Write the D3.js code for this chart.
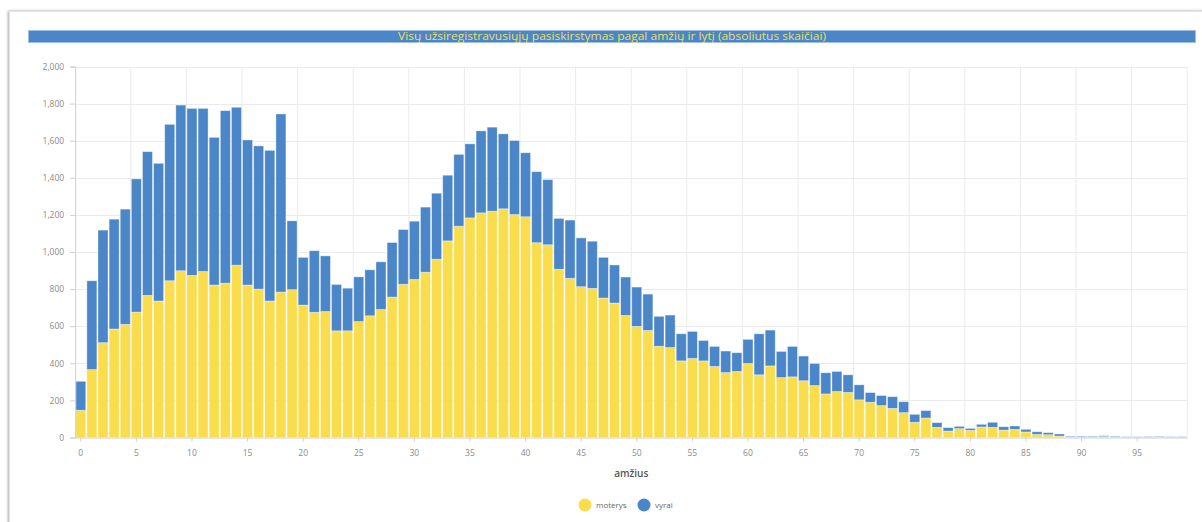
<!DOCTYPE html>
<html>
<head>
<meta charset="utf-8">
<script src="https://cdn.jsdelivr.net/npm/d3@7"></script>
<style>
  html, body { margin: 0; padding: 0; background: #ffffff; }
  svg { display: block; font-family: "Open Sans", "DejaVu Sans", sans-serif; }
</style>
</head>
<body>
<svg id="chart" width="1202" height="522"></svg>
<script>
const title = "Visų užsiregistravusiųjų pasiskirstymas pagal amžių ir lytį (absoliutus skaičiai)";
const xAxisTitle = "amžius";
const seriesNames = ["moterys", "vyrai"];
const seriesColors = ["#f9dd4d", "#4a86c8"];

const ages = d3.range(0, 100);
const women = [147,366,511,585,610,676,766,736,845,899,
  874,895,822,832,929,822,800,736,784,797,
  714,675,679,575,575,625,656,690,757,826,
  852,891,961,1060,1139,1184,1211,1220,1233,1202,
  1190,1050,1039,907,858,813,804,752,725,658,
  599,577,492,485,413,426,413,383,350,356,
  399,338,386,323,327,306,280,235,248,243,
  203,190,172,157,134,82,105,55,35,48,
  39,57,55,40,44,30,17,15,8,3,
  3,3,5,3,2,2,2,4,2,2];
const men = [156,479,607,592,621,718,775,742,843,893,
  900,879,796,930,851,782,772,812,960,371,
  257,332,300,250,230,241,248,257,294,295,
  314,351,356,354,387,399,442,453,404,399,
  345,383,351,274,314,263,254,219,205,207,
  212,196,161,175,146,146,110,108,116,101,
  130,221,193,141,164,133,119,114,108,95,
  81,52,54,63,59,43,40,25,18,12,
  10,14,27,18,18,14,14,11,11,4,
  4,4,5,4,2,2,3,3,2,2];
const yTicks = [0,200,400,600,800,1000,1200,1400,1600,1800,2000];
const xTickAges = d3.range(0, 100, 5);

const svg = d3.select("#chart");

// card frame with soft shadow
const defs = svg.append("defs");
const f = defs.append("filter").attr("id","sh").attr("x","-5%").attr("y","-5%").attr("width","110%").attr("height","110%");
f.append("feDropShadow").attr("dx",-1).attr("dy",0).attr("stdDeviation",1.6).attr("flood-color","#000").attr("flood-opacity",0.35);
svg.append("rect").attr("x",9.5).attr("y",11.5).attr("width",1230).attr("height",540)
  .attr("fill","#fff").attr("stroke","#e2e2e2").attr("filter","url(#sh)");

// title bar
svg.append("rect").attr("x",28.5).attr("y",30.5).attr("width",1167).attr("height",12)
  .attr("fill","#4a86c8").attr("stroke","#9fc0e4").attr("stroke-width",1);
svg.append("text").attr("x",612).attr("y",40.2).attr("text-anchor","middle")
  .attr("fill","#eedf5c").attr("font-size",10.5).attr("font-weight","normal")
  .attr("textLength",428).attr("lengthAdjust","spacingAndGlyphs")
  .text(title);

const pLeft = 75.2, pRight = 1187.2, pTop = 66.5, pBottom = 437.5;
const x = d3.scaleBand().domain(ages).range([pLeft, pRight]).paddingInner(0.1).paddingOuter(0.05);
const y = d3.scaleLinear().domain([0, 2000]).range([pBottom, pTop]);

// gridlines
const g = svg.append("g");
g.selectAll("line.h").data(yTicks.filter(d => d > 0)).join("line")
  .attr("x1", pLeft).attr("x2", pRight)
  .attr("y1", d => Math.round(y(d)) + 0.5).attr("y2", d => Math.round(y(d)) + 0.5)
  .attr("stroke", "#ebebeb");
g.selectAll("line.v").data(xTickAges.filter(d => d > 0)).join("line")
  .attr("x1", d => x(d) + x.bandwidth()/2 - x.step()/2).attr("x2", d => x(d) + x.bandwidth()/2 - x.step()/2)
  .attr("y1", pTop).attr("y2", pBottom)
  .attr("stroke", "#ebebeb");
g.append("line").attr("x1", pRight).attr("x2", pRight).attr("y1", pTop).attr("y2", pBottom).attr("stroke", "#ebebeb");

// stacked bars
const rows = ages.map((a, i) => ({age: a, moterys: women[i], vyrai: men[i]}));
const stack = d3.stack().keys(seriesNames)(rows);
svg.append("g").selectAll("g").data(stack).join("g")
  .attr("fill", (d, i) => seriesColors[i])
  .selectAll("rect").data(d => d).join("rect")
  .attr("x", d => x(d.data.age))
  .attr("width", x.bandwidth())
  .attr("y", d => y(d[1]))
  .attr("height", d => Math.max(0, y(d[0]) - y(d[1])))
  .attr("stroke", "rgba(255,255,255,0.45)")
  .attr("stroke-width", 0.8);

// y axis
const yAxis = svg.append("g").attr("transform", `translate(${pLeft},0)`)
  .call(d3.axisLeft(y).tickValues(yTicks).tickFormat(d3.format(",")).tickSize(5).tickPadding(6));
yAxis.select(".domain").attr("stroke", "#cfcfcf");
yAxis.selectAll(".tick line").attr("stroke", "#cfcfcf");
yAxis.selectAll("text").attr("fill", "#8a8a8a").attr("font-size", 8.5).attr("font-family", "'Open Sans', sans-serif");

// x axis
const xAxis = svg.append("g").attr("transform", `translate(0,${pBottom})`)
  .call(d3.axisBottom(x).tickValues(xTickAges).tickSize(4).tickPadding(8).tickSizeOuter(0));
xAxis.select(".domain").attr("stroke", "#cfcfcf");
xAxis.selectAll(".tick line").attr("stroke", "#cfcfcf");
xAxis.selectAll("text").attr("fill", "#8a8a8a").attr("font-size", 8.5).attr("font-family", "'Open Sans', sans-serif");

// axis title
svg.append("text").attr("x", (pLeft + pRight) / 2).attr("y", 477).attr("text-anchor", "middle")
  .attr("fill", "#555").attr("font-size", 10).attr("font-weight", "600").text(xAxisTitle);

// legend
const legend = svg.append("g");
const lx = [585, 644];
seriesNames.forEach((n, i) => {
  legend.append("circle").attr("cx", lx[i]).attr("cy", 505).attr("r", 6.5).attr("fill", seriesColors[i]);
  legend.append("text").attr("x", lx[i] + 11).attr("y", 508).attr("fill", "#666")
    .attr("font-size", 8).text(n);
});
</script>
</body>
</html>
